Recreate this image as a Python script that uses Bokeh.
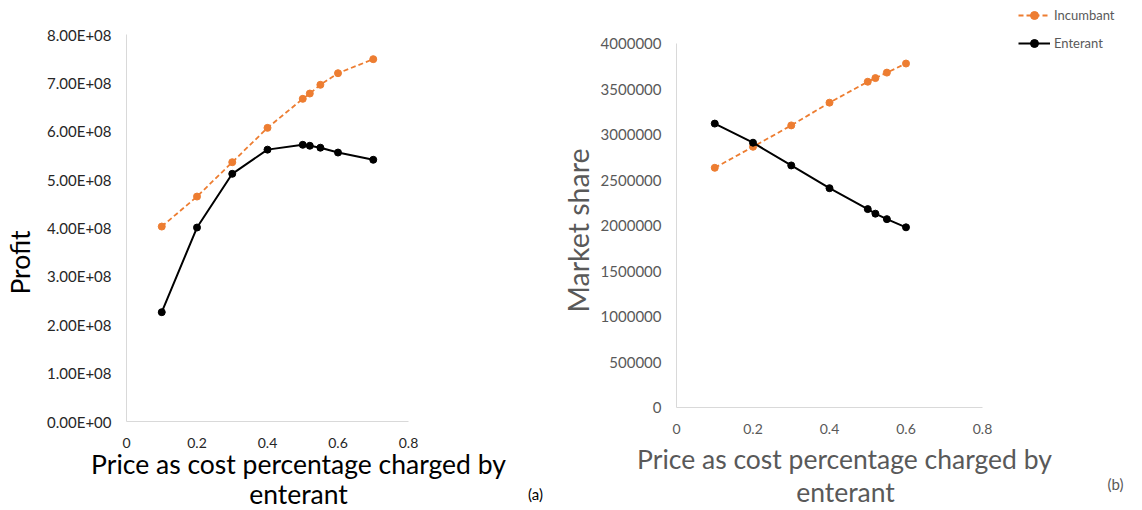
import math
from bokeh.plotting import figure
from bokeh.layouts import row
from bokeh.models import (Range1d, FixedTicker, CustomJSTickFormatter, Label,
                          Legend, LegendItem)
from bokeh.embed import file_html
from bokeh.resources import INLINE

# ---------------- data ----------------
x_profit = [0.1, 0.2, 0.3, 0.4, 0.5, 0.52, 0.55, 0.6, 0.7]
profit_incumbant = [4.03e8, 4.65e8, 5.36e8, 6.07e8, 6.67e8, 6.78e8, 6.96e8, 7.20e8, 7.49e8]
profit_enterant = [2.26e8, 4.01e8, 5.12e8, 5.62e8, 5.72e8, 5.70e8, 5.66e8, 5.56e8, 5.41e8]

x_share = [0.1, 0.2, 0.3, 0.4, 0.5, 0.52, 0.55, 0.6]
share_incumbant = [2634000, 2865000, 3100000, 3350000, 3580000, 3620000, 3680000, 3780000]
share_enterant = [3120000, 2910000, 2660000, 2410000, 2180000, 2130000, 2070000, 1980000]

x_ticks = [0, 0.2, 0.4, 0.6, 0.8]
profit_ticks = [0, 1e8, 2e8, 3e8, 4e8, 5e8, 6e8, 7e8, 8e8]
share_ticks = [0, 500000, 1000000, 1500000, 2000000, 2500000, 3000000, 3500000, 4000000]

x_title_1 = "Price as cost percentage charged by"
x_title_2 = "enterant"
series_names = ["Incumbant", "Enterant"]

ORANGE = "#ED7D31"
BLACK = "#000000"
FONT = "Lato"
AXIS_COLOR = "#d9d9d9"
H = 510

x_fmt = CustomJSTickFormatter(code="return (Math.round(tick*10)/10).toString();")
exp_fmt = CustomJSTickFormatter(code="""
const s = tick.toExponential(2).toUpperCase();
const parts = s.split('E');
let e = parts[1];
const sign = e[0];
let d = e.slice(1);
if (d.length < 2) { d = '0' + d; }
return parts[0] + 'E' + sign + d;
""")
int_fmt = CustomJSTickFormatter(code="return Math.round(tick).toString();")


def make_fig(left, width, ax_x0, ax_x1, ax_y0, ax_y1, xmax, ymax):
    """Figure whose frame is the whole canvas; axes sit at data 0 inside it.
    left/width: canvas in page px; ax_*: page px of the axis box corners."""
    kx = xmax / (ax_x1 - ax_x0)
    ky = ymax / (ax_y0 - ax_y1)
    xr = Range1d((left - ax_x0) * kx, (left + width - ax_x0) * kx)
    yr = Range1d((ax_y0 - H) * ky, ax_y0 * ky)
    p = figure(width=width, height=H, output_backend="svg", toolbar_location=None,
               x_range=xr, y_range=yr, min_border=0)
    p.xgrid.visible = False
    p.ygrid.visible = False
    p.outline_line_color = None
    return p


def style_axes(p, tick_color, xmax, ymax, yticks, yfmt):
    for ax in (p.xaxis[0], p.yaxis[0]):
        ax.fixed_location = 0
        ax.axis_line_color = AXIS_COLOR
        ax.major_tick_line_color = None
        ax.minor_tick_line_color = None
        ax.major_tick_out = 0
        ax.major_tick_in = 0
        ax.major_label_text_font = FONT
        ax.major_label_text_color = tick_color
    p.xaxis[0].bounds = (0, xmax)
    p.xaxis[0].ticker = FixedTicker(ticks=x_ticks)
    p.xaxis[0].formatter = x_fmt
    p.xaxis[0].major_label_text_font_size = "14px"
    p.xaxis[0].major_label_standoff = 16
    p.yaxis[0].bounds = (0, ymax)
    p.yaxis[0].ticker = FixedTicker(ticks=yticks)
    p.yaxis[0].formatter = yfmt
    p.yaxis[0].major_label_text_font_size = "15px"
    p.yaxis[0].major_label_standoff = 15


def add_label(p, left, text, px, py, size, color, angle=0.0):
    p.add_layout(Label(x=px - left, y=H - py, x_units="screen", y_units="screen",
                       text=text, text_font=FONT, text_font_size=size,
                       text_color=color, text_align="center",
                       text_baseline="middle", angle=angle))


# ---------------- left: profit ----------------
L1, W1 = 0, 550
p1 = make_fig(L1, W1, 126, 408, 421, 34, 0.8, 8e8)
style_axes(p1, "#262626", 0.8, 8e8, profit_ticks, exp_fmt)
p1.line(x_profit, profit_incumbant, line_color=ORANGE, line_width=1.8, line_dash="5 3")
p1.scatter(x_profit, profit_incumbant, size=7, color=ORANGE)
p1.line(x_profit, profit_enterant, line_color=BLACK, line_width=2)
p1.scatter(x_profit, profit_enterant, size=7, color=BLACK)

add_label(p1, L1, "Profit", 19, 262, "26.5px", "#000000", angle=math.pi / 2)
add_label(p1, L1, x_title_1, 298, 463, "26.5px", "#000000")
add_label(p1, L1, x_title_2, 298, 493, "26.5px", "#000000")
add_label(p1, L1, "(a)", 535, 493, "15px", "#000000")

# ---------------- right: market share ----------------
L2, W2 = 550, 584
p2 = make_fig(L2, W2, 676, 982, 407, 43, 0.8, 4000000)
style_axes(p2, "#595959", 0.8, 4000000, share_ticks, int_fmt)
r_inc_l = p2.line(x_share, share_incumbant, line_color=ORANGE, line_width=1.8, line_dash="5 3")
r_inc_s = p2.scatter(x_share, share_incumbant, size=7, color=ORANGE)
r_ent_l = p2.line(x_share, share_enterant, line_color=BLACK, line_width=2)
r_ent_s = p2.scatter(x_share, share_enterant, size=7, color=BLACK)

GRAY_TITLE = "#595959"
add_label(p2, L2, "Market share", 577, 230, "28.5px", GRAY_TITLE, angle=math.pi / 2)
add_label(p2, L2, x_title_1, 844, 458, "26.5px", GRAY_TITLE)
add_label(p2, L2, x_title_2, 845, 491, "26.5px", GRAY_TITLE)
add_label(p2, L2, "(b)", 1115, 483, "15px", GRAY_TITLE)

legend = Legend(items=[LegendItem(label=series_names[0], renderers=[r_inc_l, r_inc_s]),
                       LegendItem(label=series_names[1], renderers=[r_ent_l, r_ent_s])],
                location=(1018 - L2, H - 53), orientation="vertical",
                padding=0, margin=0, spacing=8, glyph_width=32, glyph_height=20,
                label_standoff=4, label_text_font=FONT, label_text_font_size="13px",
                label_text_color="#595959", border_line_color=None,
                background_fill_alpha=0)
p2.add_layout(legend, "center")

layout = row(p1, p2)
open("out.html", "w").write(file_html(layout, INLINE))
